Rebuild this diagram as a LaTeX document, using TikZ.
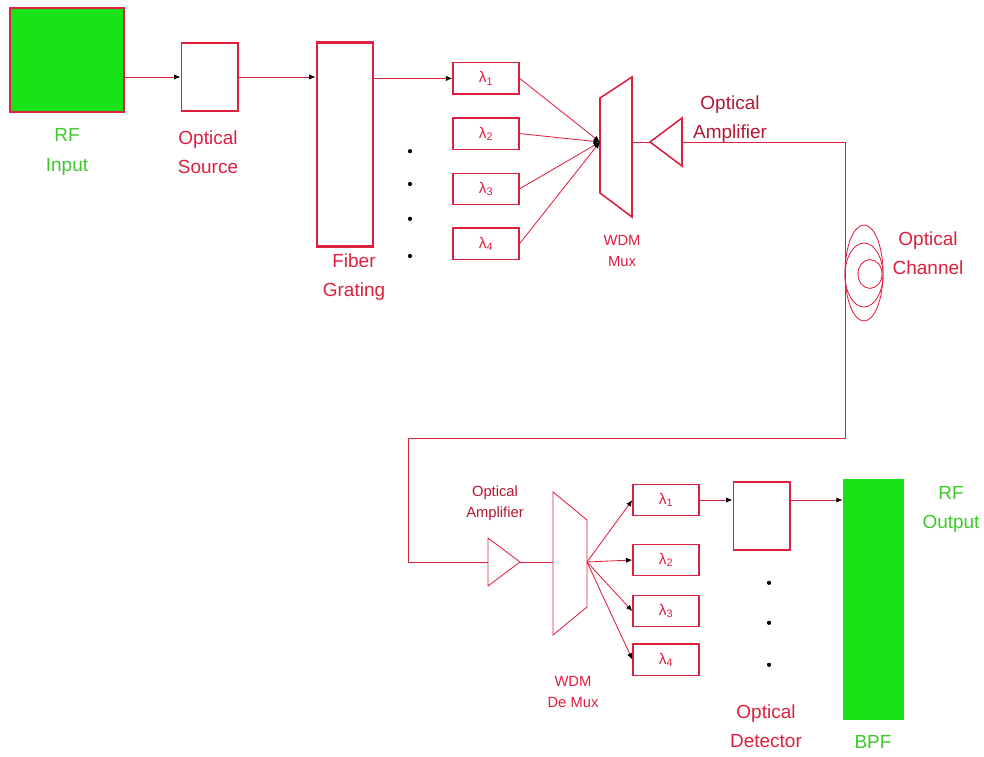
\documentclass[tikz,border=0pt]{standalone}
\usepackage{fontspec}
\setmainfont{Liberation Sans}
\usepackage{tikz}
\usetikzlibrary{arrows.meta,positioning,calc}

\definecolor{optred}{RGB}{224,30,62}
\definecolor{rfgreen}{RGB}{24,226,24}
\definecolor{rftext}{RGB}{62,200,44}

\begin{document}
\begin{tikzpicture}[
    font=\fontsize{13.5}{21}\selectfont,
    rfbox/.style={draw=optred, line width=1.8pt, fill=rfgreen, minimum width=2.85cm, minimum height=2.6cm},
    optbox/.style={draw=optred, line width=1pt, fill=white, minimum width=1.42cm, minimum height=1.7cm},
    gratbox/.style={draw=optred, line width=2pt, minimum width=1.4cm, minimum height=5.1cm},
    lambox/.style={draw=optred, line width=0.9pt, minimum width=1.65cm, minimum height=0.78cm, text=optred, font=\fontsize{11}{13}\selectfont},
    bpfbox/.style={draw=rfgreen, fill=rfgreen, minimum width=1.5cm, minimum height=6.0cm},
    redlabel/.style={text=optred, align=center},
    greenlabel/.style={text=rftext, align=center},
    smalllabel/.style={text=optred, align=center, font=\fontsize{10.5}{15}\selectfont},
    muxline/.style={draw=optred, line width=1.1pt},
    fibre/.style={draw=optred, line width=0.6pt},
    wire/.style={-{Latex[length=1.6mm, width=1.3mm, color=black]}, draw=optred, line width=0.6pt}
]
    \useasboundingbox (0,0) rectangle (24.6,18.9);

    % Emetteur RF et source optique
    \node[rfbox] (rf_in) at (1.675, 17.4) {};
    \node[greenlabel] (rf_in_lbl) at (1.675, 15.1) {RF\\Input};

    \node[optbox] (src) at (5.24, 16.975) {};
    \node[redlabel] (src_lbl) at (5.2, 15.1) {Optical\\Source};

    \node[gratbox] (grat) at (8.625, 15.29) {};
    \node[redlabel] (grat_lbl) at (8.85, 11.97) {Fiber\\Grating};

    % Longueurs d'onde cote emission
    \node[lambox] (lam1) at (12.15, 16.94) {λ\textsubscript{1}};
    \node[lambox] (lam2) at (12.15, 15.56) {λ\textsubscript{2}};
    \node[lambox] (lam3) at (12.15, 14.18) {λ\textsubscript{3}};
    \node[lambox] (lam4) at (12.15, 12.81) {λ\textsubscript{4}};

    \fill (10.25, 15.12) circle (1.5pt);
    \fill (10.25, 14.30) circle (1.5pt);
    \fill (10.25, 13.43) circle (1.5pt);
    \fill (10.25, 12.50) circle (1.5pt);

    % Multiplexeur WDM et amplificateur
    \draw[muxline] (15.0, 16.45) -- (15.8, 16.975) -- (15.8, 13.475) -- (15.0, 14.075) -- cycle;
    \coordinate (mux_in) at (15.0, 15.35);
    \coordinate (mux_out) at (15.8, 15.35);
    \node[smalllabel] (mux_lbl) at (15.55, 12.63) {WDM\\Mux};

    \draw[muxline] (16.25, 15.35) -- (17.05, 15.95) -- (17.05, 14.75) -- cycle;
    \coordinate (amp_tip) at (16.25, 15.35);
    \coordinate (amp_base) at (17.05, 15.35);
    \node[text=optred!80!black, align=center] (amp_lbl) at (18.25, 15.92) {Optical\\Amplifier};

    % Canal optique (boucle de fibre)
    \coordinate (c_top) at (21.125, 15.35);
    \coordinate (c_bot) at (21.125, 7.95);
    \coordinate (c_left) at (10.2, 7.95);
    \coordinate (c_low) at (10.2, 4.85);
    \draw[fibre] (21.6, 12.075) ellipse (0.475 and 1.2);
    \draw[fibre] (21.6, 12.025) ellipse (0.475 and 0.8);
    \draw[fibre] (21.75, 12.05) ellipse (0.3 and 0.36);
    \node[redlabel] (chan_lbl) at (23.2, 12.575) {Optical\\Channel};

    % Amplificateur et demultiplexeur cote reception
    \draw[fibre] (12.2, 5.45) -- (13.0, 4.85) -- (12.2, 4.25) -- cycle;
    \coordinate (damp_base) at (12.2, 4.85);
    \coordinate (damp_tip) at (13.0, 4.85);
    \node[smalllabel, text=optred!80!black] (damp_lbl) at (12.375, 6.325) {Optical\\Amplifier};

    \draw[fibre] (13.825, 6.6) -- (14.675, 5.9) -- (14.675, 3.725) -- (13.825, 3.025) -- cycle;
    \coordinate (demux_in) at (13.825, 4.85);
    \coordinate (demux_out) at (14.675, 4.85);
    \node[smalllabel] (demux_lbl) at (14.325, 1.59) {WDM\\De Mux};

    \node[lambox] (rlam1) at (16.65, 6.4) {λ\textsubscript{1}};
    \node[lambox] (rlam2) at (16.65, 4.9) {λ\textsubscript{2}};
    \node[lambox] (rlam3) at (16.65, 3.62) {λ\textsubscript{3}};
    \node[lambox] (rlam4) at (16.65, 2.41) {λ\textsubscript{4}};

    % Detection et filtrage RF
    \node[optbox] (det) at (19.04, 6.0) {};
    \node[redlabel] (det_lbl) at (19.15, 0.75) {Optical\\Detector};
    \fill (19.225, 4.33) circle (1.5pt);
    \fill (19.225, 3.33) circle (1.5pt);
    \fill (19.225, 2.28) circle (1.5pt);

    \node[bpfbox] (bpf) at (21.825, 3.91) {};
    \node[greenlabel] (bpf_lbl) at (21.825, 0.35) {BPF};
    \node[greenlabel] (rf_out_lbl) at (23.775, 6.16) {RF\\Output};

    % Liaisons
    \draw[wire] (rf_in.east |- src.west) -- (src.west);
    \draw[wire] (src.east) -- (src.east -| grat.west);
    \draw[wire] (grat.east |- lam1.west) -- (lam1.west);

    \draw[wire] (lam1.east) -- (mux_in);
    \draw[wire] (lam2.east) -- (mux_in);
    \draw[wire] (lam3.east) -- (mux_in);
    \draw[wire] (lam4.east) -- (mux_in);

    \draw[fibre] (mux_out) -- (amp_tip);
    \draw[fibre] (amp_base) -- (c_top) -- (c_bot) -- (c_left) -- (c_low) -- (damp_base);
    \draw[fibre] (damp_tip) -- (demux_in);

    \draw[wire] (demux_out) -- (rlam1.west);
    \draw[wire] (demux_out) -- (rlam2.west);
    \draw[wire] (demux_out) -- (rlam3.west);
    \draw[wire] (demux_out) -- (rlam4.west);

    \draw[wire] (rlam1.east) -- (rlam1.east -| det.west);
    \draw[wire] (det.east |- rlam1.east) -- (rlam1.east -| bpf.west);

\end{tikzpicture}
\end{document}
